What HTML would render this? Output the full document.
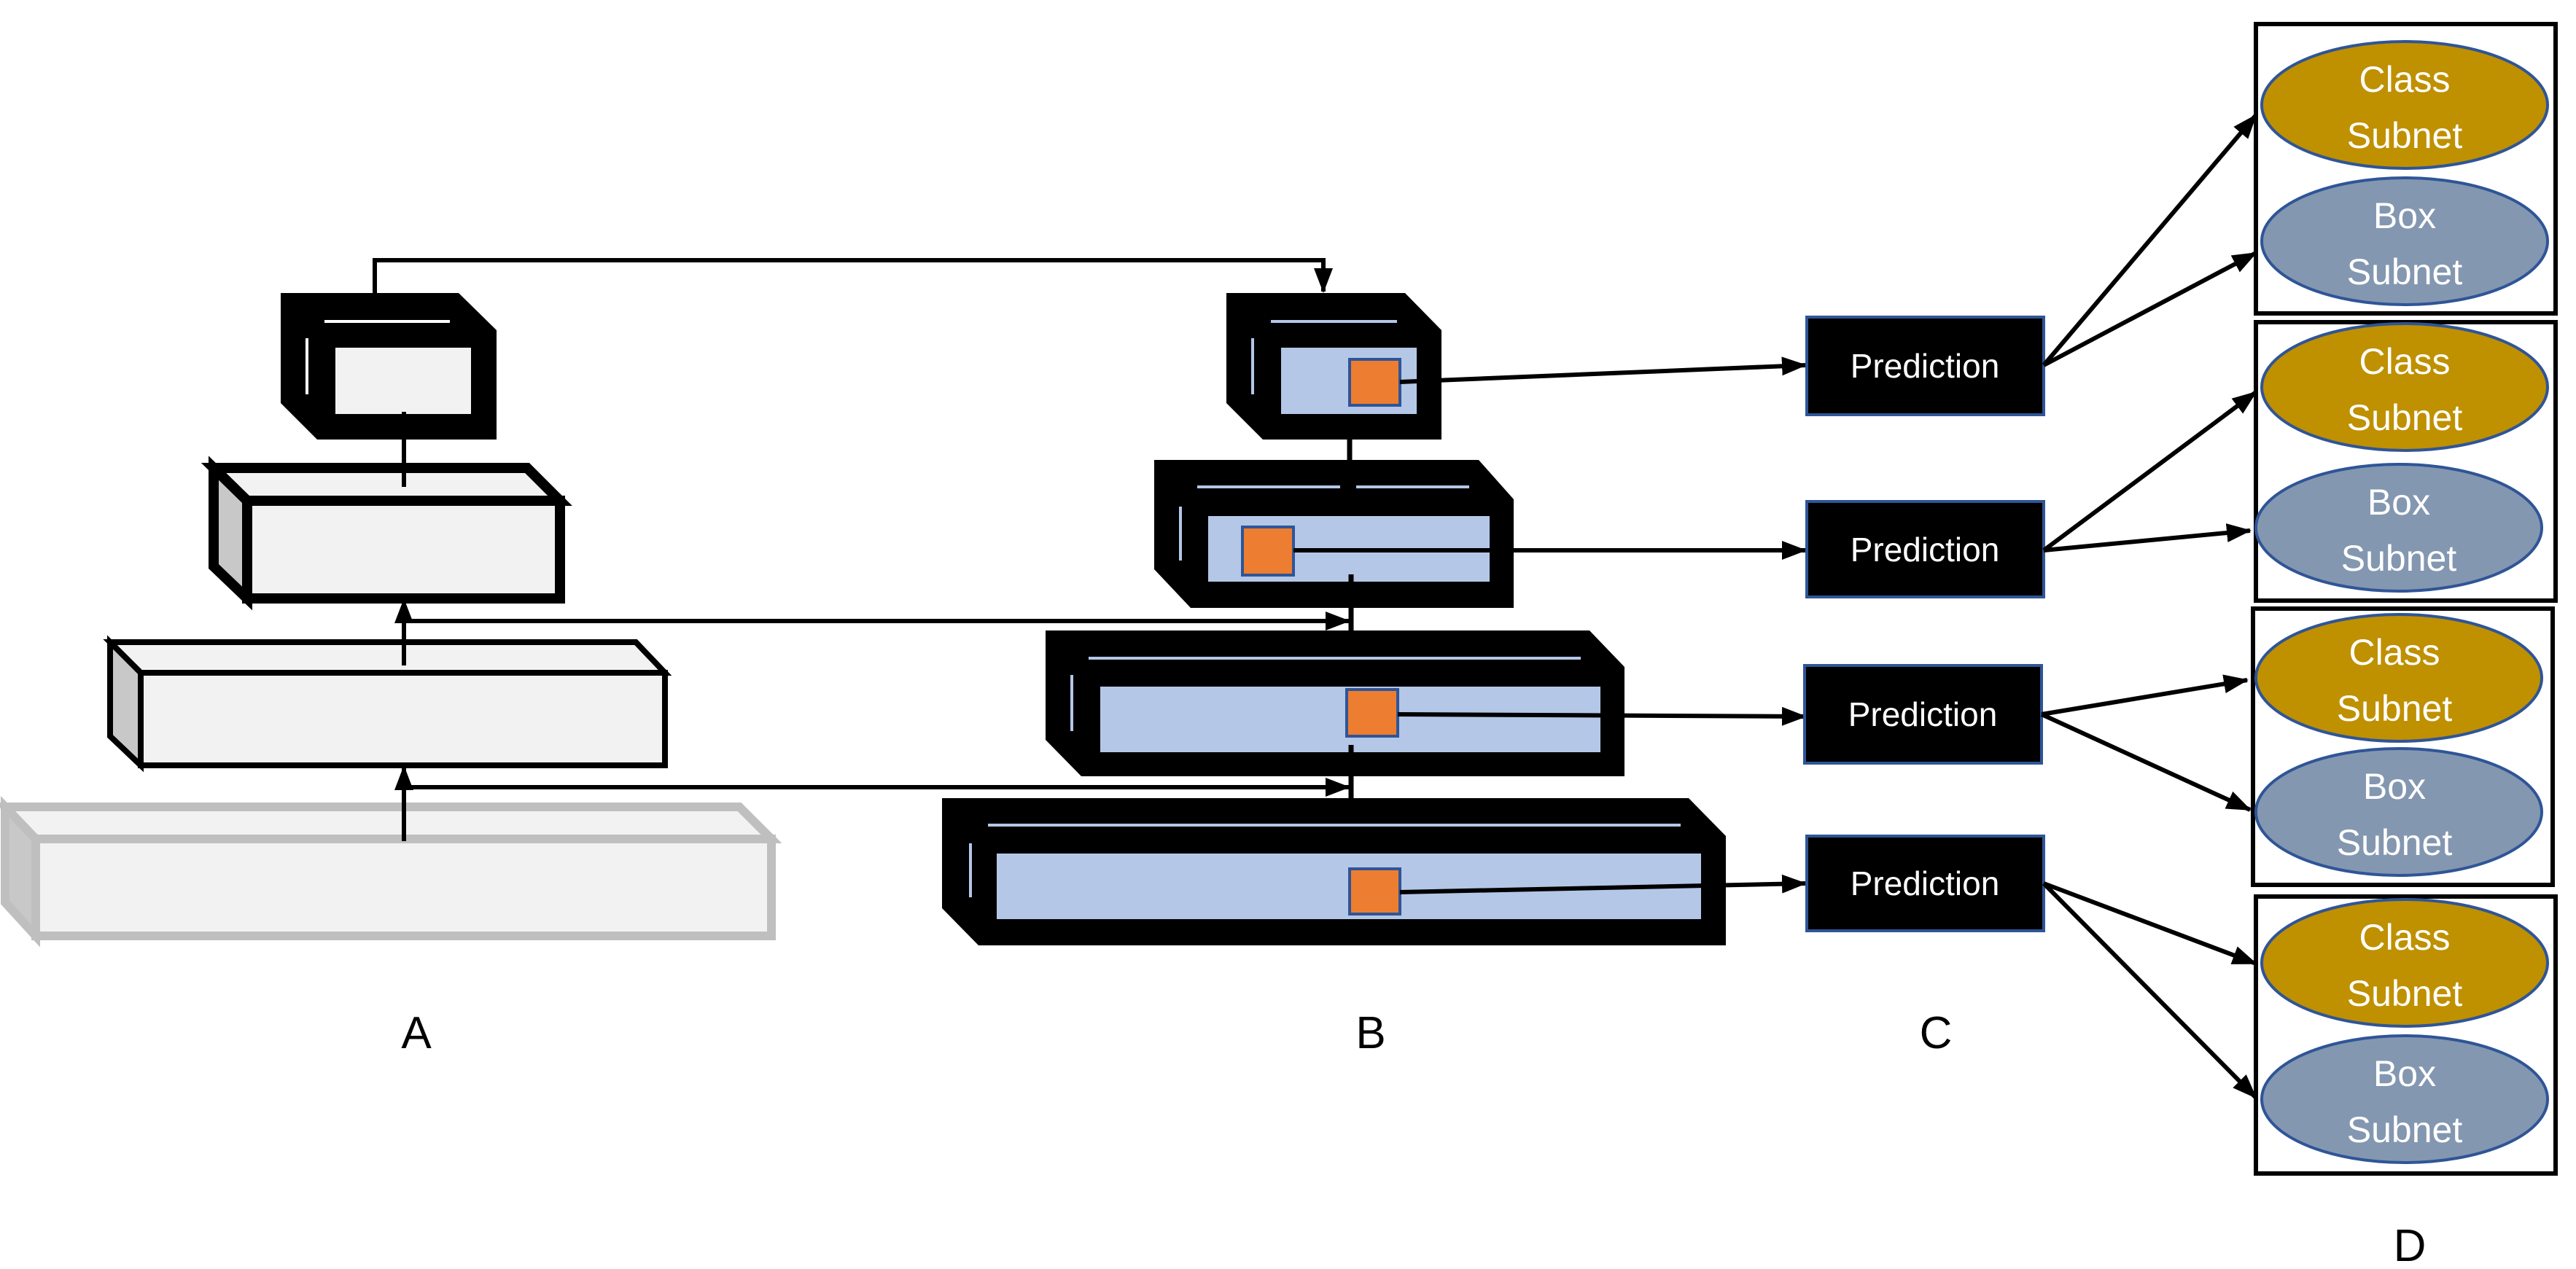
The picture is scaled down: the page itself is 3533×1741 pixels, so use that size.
<!DOCTYPE html>
<html><head><meta charset="utf-8"><style>
html,body{margin:0;padding:0;background:#fff;}
svg{display:block;}
text{font-family:"Liberation Sans",sans-serif;}
</style></head><body>
<svg width="3533" height="1741" viewBox="0 0 3533 1741" xmlns="http://www.w3.org/2000/svg">
<defs>
<marker id="ah" markerUnits="userSpaceOnUse" markerWidth="34" markerHeight="26" refX="32" refY="13" orient="auto">
<path d="M0,0 L34,13 L0,26 Z" fill="#000"/>
</marker>
</defs>

<!-- ===== Column A ===== -->
<!-- A4 gray -->
<g stroke="#bfbfbf" stroke-width="12" stroke-linejoin="miter">
<polygon points="7,1107 1014,1107 1058,1151 49,1151" fill="#f2f2f2"/>
<polygon points="7,1107 49,1151 49,1284 7,1238" fill="#c8c8c8"/>
<rect x="49" y="1151" width="1009" height="133" fill="#f2f2f2"/>
</g>
<!-- A3 -->
<g stroke="#000" stroke-width="8">
<polygon points="151,881 872,881 912,923 193,923" fill="#f2f2f2"/>
<polygon points="151,881 193,923 193,1050 151,1010" fill="#c8c8c8"/>
<rect x="193" y="923" width="719" height="127" fill="#f2f2f2"/>
</g>
<!-- A2 -->
<g stroke="#000" stroke-width="14">
<polygon points="293,642 723,642 768,687 339,687" fill="#f2f2f2"/>
<polygon points="293,642 339,687 339,821 293,777" fill="#c8c8c8"/>
<rect x="339" y="687" width="429" height="134" fill="#f2f2f2"/>
</g>
<!-- A1 -->
<polygon points="385,402 629,402 681,453 681,603 435,603 385,553" fill="#000"/>
<rect x="460" y="477" width="186" height="91" fill="#f2f2f2"/>
<line x1="445" y1="441" x2="617" y2="441" stroke="#fff" stroke-width="4"/>
<line x1="421" y1="464" x2="421" y2="541" stroke="#fff" stroke-width="4"/>

<!-- A arrows -->
<line x1="554" y1="668" x2="554" y2="565" stroke="#000" stroke-width="6"/>
<line x1="554" y1="913" x2="554" y2="823" stroke="#000" stroke-width="6" marker-end="url(#ah)"/>
<line x1="554" y1="1154" x2="554" y2="1052" stroke="#000" stroke-width="6" marker-end="url(#ah)"/>

<!-- top connector A1 -> B1 -->
<polyline points="514,402 514,357 1815,357 1815,400" fill="none" stroke="#000" stroke-width="6" marker-end="url(#ah)"/>
<!-- lateral connectors -->
<polyline points="554,852 1850,852" fill="none" stroke="#000" stroke-width="6" marker-end="url(#ah)"/>
<polyline points="554,1080 1850,1080" fill="none" stroke="#000" stroke-width="6" marker-end="url(#ah)"/>

<!-- ===== Column B ===== -->
<!-- vertical links -->
<line x1="1851" y1="600" x2="1851" y2="640" stroke="#000" stroke-width="7"/>
<line x1="1853" y1="790" x2="1853" y2="870" stroke="#000" stroke-width="7"/>
<line x1="1853" y1="1025" x2="1853" y2="1100" stroke="#000" stroke-width="7"/>

<!-- B1 -->
<polygon points="1682,402 1927,402 1977,453 1977,603 1732,603 1682,553" fill="#000"/>
<rect x="1757" y="477" width="186" height="91" fill="#b4c7e7"/>
<line x1="1743" y1="441" x2="1916" y2="441" stroke="#b4c7e7" stroke-width="4"/>
<line x1="1718" y1="464" x2="1718" y2="541" stroke="#b4c7e7" stroke-width="4"/>
<!-- B2 -->
<polygon points="1583,631 2028,631 2076,685 2076,834 1633,834 1583,781" fill="#000"/>
<rect x="1657" y="708" width="386" height="90" fill="#b4c7e7"/>
<line x1="1642" y1="668" x2="1838" y2="668" stroke="#b4c7e7" stroke-width="4"/>
<line x1="1860" y1="668" x2="2015" y2="668" stroke="#b4c7e7" stroke-width="4"/>
<line x1="1619" y1="695" x2="1619" y2="769" stroke="#b4c7e7" stroke-width="4"/>
<!-- B3 -->
<polygon points="1434,865 2180,865 2228,915 2228,1065 1483,1065 1434,1015" fill="#000"/>
<rect x="1509" y="942" width="686" height="90" fill="#b4c7e7"/>
<line x1="1493" y1="903" x2="2168" y2="903" stroke="#b4c7e7" stroke-width="4"/>
<line x1="1470" y1="926" x2="1470" y2="1003" stroke="#b4c7e7" stroke-width="4"/>
<!-- B4 -->
<polygon points="1292,1095 2316,1095 2367,1147 2367,1297 1342,1297 1292,1246" fill="#000"/>
<rect x="1367" y="1171" width="966" height="90" fill="#b4c7e7"/>
<line x1="1355" y1="1132" x2="2305" y2="1132" stroke="#b4c7e7" stroke-width="4"/>
<line x1="1331" y1="1157" x2="1331" y2="1231" stroke="#b4c7e7" stroke-width="4"/>

<!-- small stubs inside inner rects -->
<line x1="1853" y1="788" x2="1853" y2="798" stroke="#000" stroke-width="7"/>
<line x1="1853" y1="1022" x2="1853" y2="1032" stroke="#000" stroke-width="7"/>

<!-- orange squares -->
<g fill="#ed7d31" stroke="#2f5597" stroke-width="4">
<rect x="1851" y="493" width="69" height="63"/>
<rect x="1704" y="723" width="70" height="66"/>
<rect x="1847" y="946" width="70" height="64"/>
<rect x="1851" y="1192" width="69" height="62"/>
</g>

<!-- B -> prediction lines -->
<g stroke="#000" stroke-width="6" fill="none">
<line x1="1920" y1="524" x2="2476" y2="501" marker-end="url(#ah)"/>
<line x1="1774" y1="755" x2="2476" y2="755" marker-end="url(#ah)"/>
<line x1="1917" y1="980" x2="2476" y2="983" marker-end="url(#ah)"/>
<line x1="1920" y1="1224" x2="2476" y2="1212" marker-end="url(#ah)"/>
</g>

<!-- ===== Column C: Prediction ===== -->
<g fill="#000" stroke="#2f5597" stroke-width="4">
<rect x="2478" y="435" width="325" height="134"/>
<rect x="2478" y="688" width="325" height="131"/>
<rect x="2475" y="913" width="325" height="134"/>
<rect x="2478" y="1147" width="325" height="130"/>
</g>
<g fill="#fff" font-size="46" text-anchor="middle">
<text x="2640" y="518">Prediction</text>
<text x="2640" y="770">Prediction</text>
<text x="2637" y="996">Prediction</text>
<text x="2640" y="1228">Prediction</text>
</g>

<!-- prediction -> subnets -->
<g stroke="#000" stroke-width="6" fill="none">
<line x1="2803" y1="501" x2="3094" y2="158" marker-end="url(#ah)"/>
<line x1="2803" y1="501" x2="3094" y2="347" marker-end="url(#ah)"/>
<line x1="2803" y1="755" x2="3094" y2="538" marker-end="url(#ah)"/>
<line x1="2803" y1="755" x2="3086" y2="728" marker-end="url(#ah)"/>
<line x1="2800" y1="980" x2="3082" y2="933" marker-end="url(#ah)"/>
<line x1="2800" y1="980" x2="3086" y2="1111" marker-end="url(#ah)"/>
<line x1="2803" y1="1212" x2="3094" y2="1322" marker-end="url(#ah)"/>
<line x1="2803" y1="1212" x2="3094" y2="1506" marker-end="url(#ah)"/>
</g>

<!-- ===== Column D ===== -->
<g fill="none" stroke="#000" stroke-width="6">
<rect x="3094" y="33" width="411" height="397"/>
<rect x="3094" y="442" width="411" height="382"/>
<rect x="3090" y="835" width="411" height="379"/>
<rect x="3094" y="1230" width="411" height="380"/>
</g>
<g stroke="#2f5597" stroke-width="4">
<ellipse cx="3298" cy="144" rx="196" ry="87" fill="#bf9000"/>
<ellipse cx="3298" cy="331" rx="196" ry="87" fill="#8497b0"/>
<ellipse cx="3298" cy="531" rx="196" ry="87" fill="#bf9000"/>
<ellipse cx="3290" cy="724" rx="196" ry="87" fill="#8497b0"/>
<ellipse cx="3290" cy="930" rx="196" ry="87" fill="#bf9000"/>
<ellipse cx="3290" cy="1114" rx="196" ry="87" fill="#8497b0"/>
<ellipse cx="3298" cy="1321" rx="196" ry="87" fill="#bf9000"/>
<ellipse cx="3298" cy="1508" rx="196" ry="87" fill="#8497b0"/>
</g>
<g fill="#fff" font-size="50" text-anchor="middle">
<text x="3298" y="126">Class</text><text x="3298" y="203">Subnet</text>
<text x="3298" y="313">Box</text><text x="3298" y="390">Subnet</text>
<text x="3298" y="513">Class</text><text x="3298" y="590">Subnet</text>
<text x="3290" y="706">Box</text><text x="3290" y="783">Subnet</text>
<text x="3284" y="912">Class</text><text x="3284" y="989">Subnet</text>
<text x="3284" y="1096">Box</text><text x="3284" y="1173">Subnet</text>
<text x="3298" y="1303">Class</text><text x="3298" y="1380">Subnet</text>
<text x="3298" y="1490">Box</text><text x="3298" y="1567">Subnet</text>
</g>

<!-- labels -->
<g fill="#000" font-size="62" text-anchor="middle">
<text x="571" y="1438">A</text>
<text x="1880" y="1438">B</text>
<text x="2655" y="1438">C</text>
<text x="3305" y="1730">D</text>
</g>
</svg>
</body></html>
